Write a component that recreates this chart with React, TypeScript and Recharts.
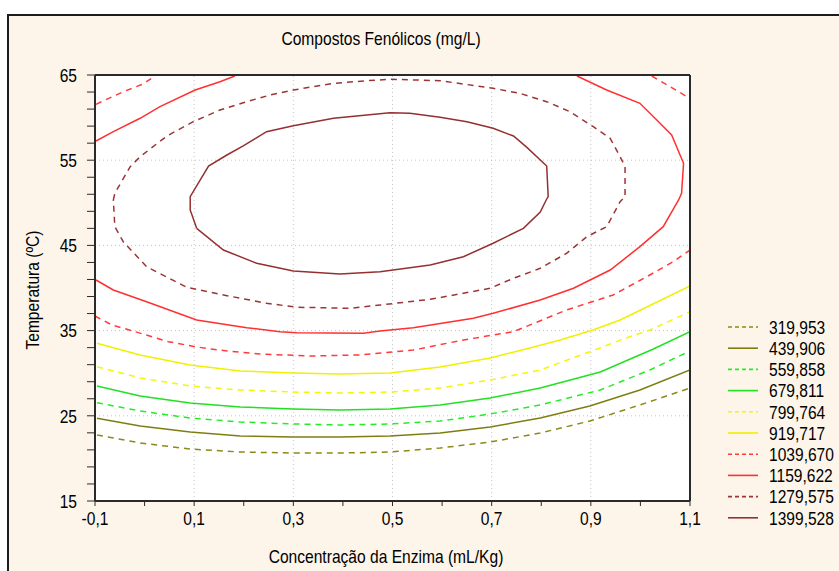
import * as React from "react";
import { LineChart, Line, XAxis, YAxis, CartesianGrid, ReferenceLine } from "recharts";

type Pt = [number, number];

const FONT = '"Liberation Sans", Arial, sans-serif';
const SQUEEZE = 0.82; // the reference uses a condensed face

// contour levels, low -> high
const levelLabels = [
  "319,953", "439,906", "559,858", "679,811", "799,764",
  "919,717", "1039,670", "1159,622", "1279,575", "1399,528",
];
const levelColors = [
  "#8c8a14", "#7f7d10", "#22ee22", "#22e022", "#f6f600",
  "#f0f000", "#ff3a3a", "#ff3030", "#9b3535", "#943030",
];
const levelDashed = [true, false, true, false, true, false, true, false, true, false];

const xTicksAll = [-0.1, 0, 0.1, 0.2, 0.3, 0.4, 0.5, 0.6, 0.7, 0.8, 0.9, 1.0, 1.1];
const xTickLabels = [-0.1, 0.1, 0.3, 0.5, 0.7, 0.9, 1.1];
const yTicksAll = [15, 17, 19, 21, 23, 25, 27, 29, 31, 33, 35, 37, 39, 41, 43, 45, 47, 49, 51, 53, 55, 57, 59, 61, 63, 65];
const yTickLabels = [15, 25, 35, 45, 55, 65];
const xGrid = [0.1, 0.3, 0.5, 0.7, 0.9];
const yGrid = [25, 35, 45, 55];

// contour paths (x = enzyme mL/Kg, y = temperature ºC)
const c320: Pt[] = [
  [-0.096, 22.75], [-0.009, 21.81], [0.092, 21.1], [0.193, 20.75], [0.299, 20.63], [0.394, 20.63],
  [0.495, 20.75], [0.596, 21.22], [0.697, 21.92], [0.798, 22.98], [0.898, 24.39], [0.999, 26.27], [1.1, 28.26],
];
const c440: Pt[] = [
  [-0.096, 24.71], [-0.009, 23.8], [0.092, 23.1], [0.193, 22.63], [0.299, 22.51], [0.394, 22.51],
  [0.495, 22.63], [0.596, 22.98], [0.697, 23.69], [0.798, 24.74], [0.898, 26.15], [0.999, 28.03], [1.1, 30.38],
];
const c560: Pt[] = [
  [-0.096, 26.54], [-0.009, 25.56], [0.092, 24.74], [0.193, 24.27], [0.299, 24.04], [0.394, 23.92],
  [0.495, 24.04], [0.596, 24.39], [0.697, 25.21], [0.798, 26.27], [0.919, 28.03], [1.019, 30.38], [1.1, 32.61],
];
const c680: Pt[] = [
  [-0.096, 28.5], [-0.009, 27.32], [0.092, 26.5], [0.193, 26.03], [0.299, 25.8], [0.394, 25.68],
  [0.495, 25.8], [0.596, 26.27], [0.697, 27.09], [0.798, 28.26], [0.919, 30.14], [1.025, 32.81], [1.1, 34.87],
];
const c800: Pt[] = [
  [-0.096, 30.76], [-0.009, 29.44], [0.092, 28.5], [0.193, 28.03], [0.299, 27.79], [0.394, 27.68],
  [0.495, 27.79], [0.596, 28.26], [0.697, 29.2], [0.798, 30.38], [0.913, 32.84], [0.965, 34.01],
  [1.019, 35.07], [1.1, 37.22],
];
const c920: Pt[] = [
  [-0.096, 33.51], [-0.009, 32.14], [0.092, 30.96], [0.193, 30.26], [0.299, 30.03], [0.394, 29.91],
  [0.495, 30.03], [0.596, 30.73], [0.697, 31.78], [0.777, 32.96], [0.838, 33.9], [0.904, 35.07],
  [0.959, 36.24], [1.013, 37.77], [1.1, 40.23],
];
const c1040TopLeft: Pt[] = [[-0.098, 61.56], [-0.043, 63.04], [-0.003, 63.94], [0.021, 64.88]];
const c1040TopRight: Pt[] = [[1.023, 64.88], [1.06, 63.63], [1.097, 62.34]];
const c1040: Pt[] = [
  [-0.1, 36.71], [-0.066, 35.66], [-0.019, 34.87], [0.048, 33.7], [0.102, 33.11], [0.149, 32.72],
  [0.233, 32.25], [0.334, 32.02], [0.435, 32.14], [0.542, 32.72], [0.643, 33.9], [0.744, 34.87],
  [0.851, 37.42], [0.945, 39.18], [1.013, 41.33], [1.066, 43.09], [1.1, 44.46],
];
const c1160TopLeft: Pt[] = [
  [-0.098, 57.25], [-0.063, 58.35], [-0.009, 59.92], [0.031, 61.28], [0.102, 63.24], [0.152, 64.21], [0.182, 64.88],
];
const c1160: Pt[] = [
  [0.872, 64.88], [0.932, 63.24], [0.999, 61.68], [1.033, 59.72], [1.063, 57.96], [1.087, 54.64],
  [1.083, 51.12], [1.077, 50.33], [1.046, 47.2], [0.999, 44.85], [0.939, 42.11], [0.865, 39.97],
  [0.798, 38.59], [0.703, 37.03], [0.663, 36.44], [0.542, 35.34], [0.475, 34.95], [0.441, 34.68],
  [0.307, 34.75], [0.273, 34.87], [0.206, 35.34], [0.105, 36.24], [0.004, 38.39], [-0.063, 39.77], [-0.098, 40.94],
];
const c1280: Pt[] = [
  [-0.063, 50.33], [-0.06, 51.12], [-0.029, 54.24], [-0.009, 55.41], [0.045, 57.84], [0.098, 59.52],
  [0.152, 60.89], [0.199, 61.75], [0.253, 62.65], [0.3, 63.24], [0.381, 64.02], [0.448, 64.33],
  [0.495, 64.5], [0.596, 64.33], [0.643, 63.94], [0.703, 63.44], [0.757, 62.85], [0.811, 61.87],
  [0.858, 60.69], [0.905, 58.93], [0.939, 57.57], [0.959, 55.41], [0.969, 54.24], [0.969, 50.72],
  [0.959, 50.13], [0.932, 47.2], [0.892, 46.02], [0.851, 44.07], [0.798, 42.31], [0.744, 41.14],
  [0.697, 39.97], [0.643, 39.38], [0.576, 38.67], [0.475, 38.0], [0.414, 37.62], [0.307, 37.74],
  [0.246, 38.21], [0.159, 39.18], [0.085, 40.08], [0.004, 42.5], [-0.043, 45.43], [-0.06, 47.2], [-0.063, 50.33],
];
const c1400: Pt[] = [
  [0.105, 47.0], [0.092, 49.16], [0.092, 50.72], [0.129, 54.32], [0.166, 55.61], [0.199, 56.67],
  [0.246, 58.35], [0.3, 59.05], [0.381, 59.92], [0.495, 60.58], [0.535, 60.5], [0.596, 60.04],
  [0.65, 59.52], [0.703, 58.74], [0.744, 57.84], [0.771, 56.51], [0.811, 54.32], [0.814, 50.72],
  [0.81, 50.33], [0.798, 48.92], [0.764, 47.0], [0.703, 45.25], [0.643, 43.67], [0.576, 42.7],
  [0.475, 41.91], [0.394, 41.64], [0.3, 42.0], [0.226, 42.9], [0.159, 44.46], [0.105, 47.0],
];

const contours: { level: number; pts: Pt[] }[] = [
  { level: 0, pts: c320 },
  { level: 1, pts: c440 },
  { level: 2, pts: c560 },
  { level: 3, pts: c680 },
  { level: 4, pts: c800 },
  { level: 5, pts: c920 },
  { level: 6, pts: c1040 },
  { level: 6, pts: c1040TopLeft },
  { level: 6, pts: c1040TopRight },
  { level: 7, pts: c1160 },
  { level: 7, pts: c1160TopLeft },
  { level: 8, pts: c1280 },
  { level: 9, pts: c1400 },
];

const isXLabel = (v: number) => xTickLabels.some((t) => Math.abs(t - v) < 1e-6);

const XTick = (props: any) => {
  const { x, y, payload } = props;
  const v = payload.value as number;
  if (!isXLabel(v)) return null;
  return (
    <text
      transform={`translate(${x},${y}) scale(${SQUEEZE},1)`}
      textAnchor="middle"
      dy="0.71em"
      fontSize={19}
      fontFamily={FONT}
      fill="#000"
    >
      {v.toFixed(1).replace(".", ",")}
    </text>
  );
};

const YTick = (props: any) => {
  const { x, y, payload } = props;
  const v = payload.value as number;
  if (!yTickLabels.includes(v)) return null;
  return (
    <text
      transform={`translate(${x},${y}) scale(${SQUEEZE},1)`}
      textAnchor="end"
      dy="0.36em"
      fontSize={19}
      fontFamily={FONT}
      fill="#000"
    >
      {v}
    </text>
  );
};

const LegendBox = () => (
  <svg width={114} height={220} style={{ position: "absolute", left: 725, top: 316 }}>
    {levelLabels.map((lab, i) => {
      const cy = 11 + i * 21.2;
      return (
        <g key={lab}>
          <line
            x1={3}
            x2={33}
            y1={cy}
            y2={cy}
            stroke={levelColors[i]}
            strokeWidth={1.6}
            strokeDasharray={levelDashed[i] ? "4 3" : undefined}
          />
          <text
            transform={`translate(44,${cy}) scale(${SQUEEZE},1)`}
            dy="0.36em"
            fontSize={19}
            fontFamily={FONT}
            fill="#000"
          >
            {lab}
          </text>
        </g>
      );
    })}
  </svg>
);

const axisStroke = { stroke: "#2a2a2a", strokeWidth: 2 };

const labelStyle: React.CSSProperties = {
  position: "absolute",
  whiteSpace: "nowrap",
  fontSize: 19,
  lineHeight: "22px",
  color: "#000",
};

export default function App() {
  return (
    <div
      style={{
        position: "fixed",
        left: 0,
        top: 0,
        width: 839,
        height: 571,
        overflow: "hidden",
        background: "#ffffff",
        fontFamily: FONT,
      }}
    >
      <div
        style={{
          position: "absolute",
          left: 7,
          top: 14,
          width: 900,
          height: 600,
          borderLeft: "2px solid #1c1c1c",
          borderTop: "2px solid #1c1c1c",
          background: "#fdf5ea",
        }}
      />
      <div style={{ ...labelStyle, left: 381, top: 39, transform: `translate(-50%, -50%) scaleX(${SQUEEZE})` }}>
        Compostos Fenólicos (mg/L)
      </div>
      <div
        style={{
          ...labelStyle,
          left: 33,
          top: 290,
          transform: `translate(-50%, -50%) rotate(-90deg) scaleX(${SQUEEZE})`,
        }}
      >
        Temperatura (ºC)
      </div>
      <div style={{ ...labelStyle, left: 386, top: 557, transform: `translate(-50%, -50%) scaleX(${SQUEEZE})` }}>
        Concentração da Enzima (mL/Kg)
      </div>
      <div style={{ position: "absolute", left: 0, top: 0 }}>
        <LineChart width={839} height={571} margin={{ top: 70, right: 144, bottom: 40, left: 35 }}>
          <CartesianGrid fill="#ffffff" horizontal={false} vertical={false} />
          <XAxis
            type="number"
            dataKey="x"
            domain={[-0.1, 1.1]}
            ticks={xTicksAll}
            interval={0}
            height={30}
            tickSize={5}
            tickMargin={6}
            tick={<XTick />}
            axisLine={axisStroke}
            tickLine={{ stroke: "#2a2a2a" }}
            allowDataOverflow
          />
          <XAxis
            xAxisId="top"
            orientation="top"
            type="number"
            domain={[-0.1, 1.1]}
            ticks={xTicksAll}
            interval={0}
            height={5}
            tickSize={3}
            tick={false}
            axisLine={axisStroke}
            tickLine={{ stroke: "#2a2a2a" }}
          />
          <YAxis
            type="number"
            domain={[15, 65]}
            ticks={yTicksAll}
            interval={0}
            width={60}
            tickSize={8}
            tickMargin={10}
            tick={<YTick />}
            axisLine={axisStroke}
            tickLine={{ stroke: "#2a2a2a" }}
            allowDataOverflow
          />
          <YAxis
            yAxisId="right"
            orientation="right"
            type="number"
            domain={[15, 65]}
            ticks={yTicksAll}
            interval={0}
            width={5}
            tickSize={3}
            tick={false}
            axisLine={axisStroke}
            tickLine={{ stroke: "#2a2a2a" }}
          />
          {xGrid.map((v) => (
            <ReferenceLine key={"gx" + v} x={v} stroke="#c4c4c4" strokeDasharray="1 3" />
          ))}
          {yGrid.map((v) => (
            <ReferenceLine key={"gy" + v} y={v} stroke="#c4c4c4" strokeDasharray="1 3" />
          ))}
          {contours.map((c, i) => (
            <Line
              key={i}
              data={c.pts.map(([x, y]) => ({ x, y }))}
              dataKey="y"
              type="linear"
              stroke={levelColors[c.level]}
              strokeWidth={1.5}
              strokeDasharray={levelDashed[c.level] ? "6 5" : undefined}
              dot={false}
              activeDot={false}
              isAnimationActive={false}
              legendType="none"
            />
          ))}
        </LineChart>
      </div>
      <LegendBox />
    </div>
  );
}
